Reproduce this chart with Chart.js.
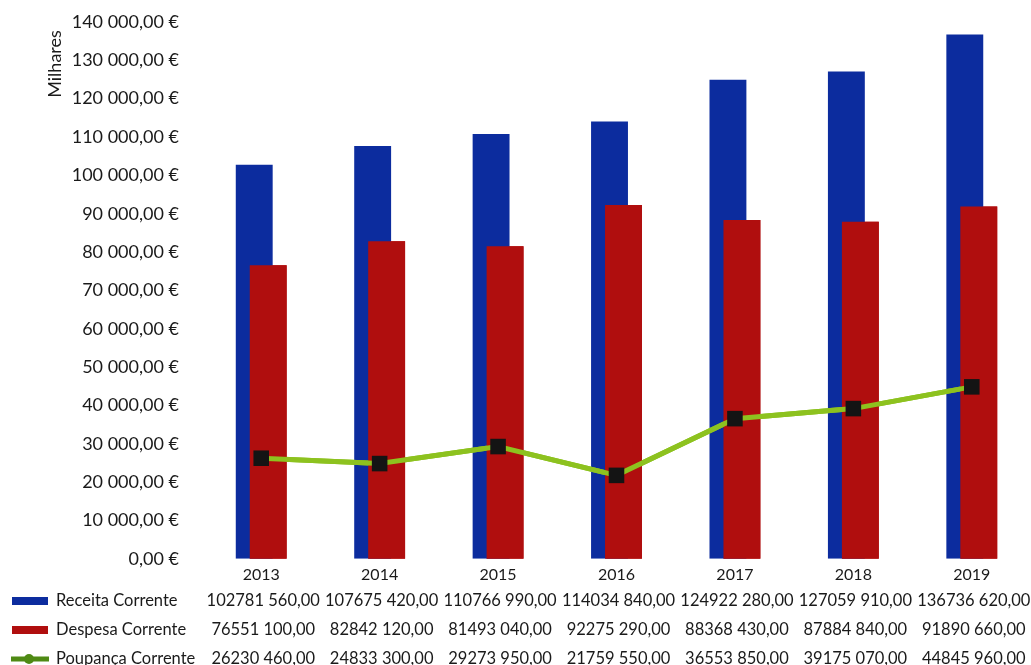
<!DOCTYPE html>
<html>
<head>
<meta charset="utf-8">
<script src="https://cdn.jsdelivr.net/npm/chart.js@4/dist/chart.umd.min.js"></script>
<style>
  html, body { margin: 0; padding: 0; background: #ffffff; }
  #wrap { width: 1031px; height: 665px; position: relative; }
</style>
</head>
<body>
<div id="wrap"><canvas id="chart"></canvas></div>
<script>
// Annual current revenue, current expenditure and current savings (euros)
const years = ['2013', '2014', '2015', '2016', '2017', '2018', '2019'];
const receitaCorrente = [102781560, 107675420, 110766990, 114034840, 124922280, 127059910, 136736620];
const despesaCorrente = [76551100, 82842120, 81493040, 92275290, 88368430, 87884840, 91890660];
const poupancaCorrente = [26230460, 24833300, 29273950, 21759550, 36553850, 39175070, 44845960];
const seriesNames = ['Receita Corrente', 'Despesa Corrente', 'Poupança Corrente'];
const axisTitle = 'Milhares';
const yMin = 0, yMax = 140000, yStep = 10000;

const toThousands = arr => arr.map(v => v / 1000);

const FONT = 'Lato, "Open Sans", sans-serif';
const BLUE = '#0c2c9e';
const RED = '#b00e0e';
const GREEN = '#8dc21f';
const GREEN_KEY = '#4f8a14';

// "140 000,00 €"
function fmtTick(v) {
  const s = Math.round(v).toString().replace(/\B(?=(\d{3})+(?!\d))/g, ' ');
  return s + ',00 €';
}
// "102781 560,00"
function fmtTable(v) {
  const head = Math.floor(v / 1000);
  const tail = String(v % 1000).padStart(3, '0');
  return head + ' ' + tail + ',00';
}

// Data table under the x axis, with a legend key per row
const dataTable = {
  id: 'dataTable',
  afterDraw(chart) {
    const ctx = chart.ctx;
    const xs = chart.scales.x;
    const rows = [
      { name: seriesNames[0], values: receitaCorrente, key: 'bar', color: BLUE, y: 601 },
      { name: seriesNames[1], values: despesaCorrente, key: 'bar', color: RED, y: 630 },
      { name: seriesNames[2], values: poupancaCorrente, key: 'line', color: GREEN_KEY, y: 659 }
    ];
    ctx.save();
    rows.forEach(row => {
      if (row.key === 'bar') {
        ctx.fillStyle = row.color;
        ctx.fillRect(12, row.y - 4, 36, 8);
      } else {
        ctx.strokeStyle = row.color;
        ctx.lineWidth = 5;
        ctx.beginPath();
        ctx.moveTo(11, row.y);
        ctx.lineTo(49, row.y);
        ctx.stroke();
        ctx.fillStyle = row.color;
        ctx.beginPath();
        ctx.arc(29, row.y, 5, 0, Math.PI * 2);
        ctx.fill();
      }
      ctx.fillStyle = '#1a1a1a';
      ctx.font = '16.5px ' + FONT;
      ctx.textBaseline = 'middle';
      ctx.textAlign = 'left';
      ctx.fillText(row.name, 56, row.y);
      ctx.textAlign = 'center';
      row.values.forEach((v, i) => {
        ctx.fillText(fmtTable(v), xs.getPixelForValue(i) + 2, row.y);
      });
    });
    // rotated y-axis unit title
    ctx.translate(55, 64);
    ctx.rotate(-Math.PI / 2);
    ctx.textAlign = 'center';
    ctx.textBaseline = 'middle';
    ctx.font = '18px ' + FONT;
    ctx.fillStyle = '#1a1a1a';
    ctx.fillText(axisTitle, 0, 0);
    ctx.restore();
  }
};

// Expenditure bars sit in front of revenue bars; the savings line stays on top
const layering = {
  id: 'layering',
  afterDatasetsDraw(chart) {
    chart.getDatasetMeta(2).controller.draw();
    chart.getDatasetMeta(0).controller.draw();
  }
};

new Chart(document.getElementById('chart'), {
  data: {
    labels: years,
    datasets: [
      {
        type: 'line',
        label: seriesNames[2],
        data: toThousands(poupancaCorrente),
        order: 0,
        borderColor: GREEN,
        borderWidth: 5,
        pointStyle: 'rect',
        pointRadius: 11,
        pointHoverRadius: 11,
        pointBackgroundColor: '#141414',
        pointBorderColor: '#141414',
        pointBorderWidth: 0,
        tension: 0
      },
      {
        type: 'bar',
        label: seriesNames[0],
        data: toThousands(receitaCorrente),
        order: 1,
        backgroundColor: BLUE,
        categoryPercentage: 0.236,
        barPercentage: 2.64
      },
      {
        type: 'bar',
        label: seriesNames[1],
        data: toThousands(despesaCorrente),
        order: 2,
        backgroundColor: RED,
        categoryPercentage: 0.236,
        barPercentage: 2.64
      }
    ]
  },
  options: {
    responsive: true,
    maintainAspectRatio: false,
    animation: false,
    events: [],
    layout: { autoPadding: false, padding: { top: 22, bottom: 75, left: 0, right: 0 } },
    plugins: {
      legend: { display: false },
      tooltip: { enabled: false },
      title: { display: false }
    },
    scales: {
      x: {
        grid: { display: false, drawTicks: false },
        border: { display: false },
        afterFit(scale) { scale.paddingLeft = 0; scale.paddingRight = 0; },
        ticks: {
          padding: 6,
          color: '#1a1a1a',
          font: { family: FONT, size: 16 }
        }
      },
      y: {
        min: yMin,
        max: yMax,
        grid: { display: false, drawTicks: false },
        border: { display: false },
        afterFit(scale) {
          scale.width = 202;
          scale.paddingTop = 0;
          scale.paddingBottom = 0;
        },
        ticks: {
          stepSize: yStep,
          padding: 23,
          color: '#1a1a1a',
          font: { family: FONT, size: 18 },
          callback: v => fmtTick(v)
        }
      }
    }
  },
  plugins: [dataTable, layering]
});
</script>
</body>
</html>
